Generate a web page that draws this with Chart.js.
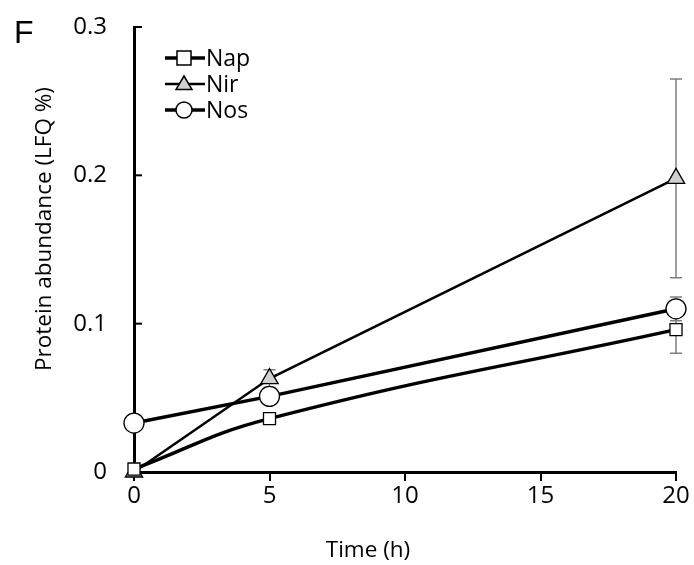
<!DOCTYPE html>
<html>
<head>
<meta charset="utf-8">
<script src="https://cdn.jsdelivr.net/npm/chart.js@4"></script>
<style>
  html, body { margin: 0; padding: 0; background: #fff; }
  #wrap { width: 694px; height: 565px; position: relative; }
</style>
</head>
<body>
<div id="wrap"><canvas id="chart"></canvas></div>
<script>
// data
const timeH = [0, 5, 20];
const napMean = [0.002, 0.036, 0.096];
const napErr = [0, 0, 0.016];
const nirMean = [0, 0.063, 0.198];
const nirErr = [0, 0.006, 0.067];
const nosMean = [0.033, 0.051, 0.110];
const nosErr = [0, 0, 0.008];
const xTicks = [0, 5, 10, 15, 20];
const yTicks = [0, 0.1, 0.2, 0.3];

const FONT = "'Open Sans', sans-serif";

function toPoints(ys) {
    return timeH.map((t, i) => ({ x: t, y: ys[i] }));
}

const seriesList = [
    { label: "Nap", mean: napMean, err: napErr, style: "rect", fill: "#ffffff", width: 3.5, tension: 0.45, radius: 8.5 },
    { label: "Nir", mean: nirMean, err: nirErr, style: "triangle", fill: "#d0d0d0", width: 2.5, tension: 0, radius: 10 },
    { label: "Nos", mean: nosMean, err: nosErr, style: "circle", fill: "#ffffff", width: 3.5, tension: 0, radius: 10 }
];

// --- error bars (drawn under the lines) ---
const errorBars = {
    id: "errorBars",
    beforeDatasetsDraw(chart) {
        const ctx = chart.ctx;
        const xs = chart.scales.x, ys = chart.scales.y;
        ctx.save();
        ctx.strokeStyle = "#7f7f7f";
        ctx.lineWidth = 1.5;
        seriesList.forEach(s => {
            timeH.forEach((t, i) => {
                if (!s.err[i]) return;
                const px = xs.getPixelForValue(t);
                const top = ys.getPixelForValue(s.mean[i] + s.err[i]);
                const bot = ys.getPixelForValue(s.mean[i] - s.err[i]);
                ctx.beginPath();
                ctx.moveTo(px, top); ctx.lineTo(px, bot);
                ctx.moveTo(px - 6, top); ctx.lineTo(px + 6, top);
                ctx.moveTo(px - 6, bot); ctx.lineTo(px + 6, bot);
                ctx.stroke();
            });
        });
        ctx.restore();
    }
};

// --- inward y ticks, axis titles, panel letter and legend ---
const extras = {
    id: "extras",
    afterDraw(chart) {
        const ctx = chart.ctx;
        const xs = chart.scales.x, ys = chart.scales.y;
        ctx.save();
        ctx.strokeStyle = "#000";
        ctx.lineWidth = 2;
        yTicks.forEach(v => {
            if (v === 0) return;
            const py = ys.getPixelForValue(v);
            ctx.beginPath();
            ctx.moveTo(xs.left, py);
            ctx.lineTo(xs.left + 8, py);
            ctx.stroke();
        });

        ctx.fillStyle = "#000";
        ctx.textBaseline = "middle";
        ctx.textAlign = "center";
        ctx.font = "22.5px " + FONT;
        ctx.fillText("Time (h)", 368, 551);
        ctx.save();
        ctx.translate(45, 229);
        ctx.rotate(-Math.PI / 2);
        ctx.fillText("Protein abundance (LFQ %)", 0, 0);
        ctx.restore();

        ctx.font = "32px 'Liberation Sans', Arial, sans-serif";
        ctx.textAlign = "left";
        ctx.fillText("F", 14, 34);

        const legendY = [58, 84, 110];
        seriesList.forEach((s, i) => {
            const y = legendY[i];
            const cx = 184;
            ctx.strokeStyle = "#000";
            ctx.lineWidth = s.width;
            ctx.beginPath();
            ctx.moveTo(165, y); ctx.lineTo(205, y);
            ctx.stroke();
            ctx.fillStyle = s.fill;
            ctx.lineWidth = 1.5;
            ctx.beginPath();
            const r = 8;
            if (s.style === "rect") {
                ctx.rect(cx - 7, y - 7, 14, 14);
            } else if (s.style === "triangle") {
                ctx.moveTo(cx, y - r);
                ctx.lineTo(cx + r, y + r * 0.7);
                ctx.lineTo(cx - r, y + r * 0.7);
                ctx.closePath();
            } else {
                ctx.arc(cx, y, r, 0, Math.PI * 2);
            }
            ctx.fill();
            ctx.stroke();
            ctx.fillStyle = "#000";
            ctx.font = "23px " + FONT;
            ctx.textAlign = "left";
            ctx.fillText(s.label, 206, y + 1);
        });
        ctx.restore();
    }
};

new Chart(document.getElementById("chart"), {
    type: "scatter",
    data: {
        datasets: seriesList.map(s => ({
            label: s.label,
            data: toPoints(s.mean),
            showLine: true,
            borderColor: "#000",
            borderWidth: s.width,
            tension: s.tension,
            pointStyle: s.style,
            pointRadius: s.radius,
            pointHoverRadius: s.radius,
            pointBackgroundColor: s.fill,
            pointBorderColor: "#000",
            pointBorderWidth: 1.3,
            clip: false
        }))
    },
    options: {
        responsive: true,
        maintainAspectRatio: false,
        animation: false,
        devicePixelRatio: 1,
        layout: { padding: { top: 27, right: 18, left: 32, bottom: 0 } },
        plugins: {
            legend: { display: false },
            tooltip: { enabled: false }
        },
        scales: {
            x: {
                type: "linear",
                min: 0, max: 20,
                afterBuildTicks: axis => { axis.ticks = xTicks.map(v => ({ value: v })); },
                afterFit: axis => {
                    axis.height = 565 - 472;
                    axis.paddingLeft = 0;
                    axis.paddingRight = 0;
                },
                border: { color: "#000", width: 3 },
                grid: { display: true, drawOnChartArea: false, color: "#000", lineWidth: 2, tickLength: 9 },
                ticks: { color: "#000", font: { family: FONT, size: 24 }, padding: 1 },
                title: { display: false }
            },
            y: {
                min: 0, max: 0.3,
                afterBuildTicks: axis => { axis.ticks = yTicks.map(v => ({ value: v })); },
                afterFit: axis => {
                    axis.width = 134 - 32;
                    axis.paddingTop = 0;
                    axis.paddingBottom = 0;
                },
                border: { color: "#000", width: 3 },
                grid: { display: false },
                ticks: { color: "#000", font: { family: FONT, size: 24 }, padding: 19 },
                title: { display: false }
            }
        }
    },
    plugins: [errorBars, extras]
});
</script>
</body>
</html>
